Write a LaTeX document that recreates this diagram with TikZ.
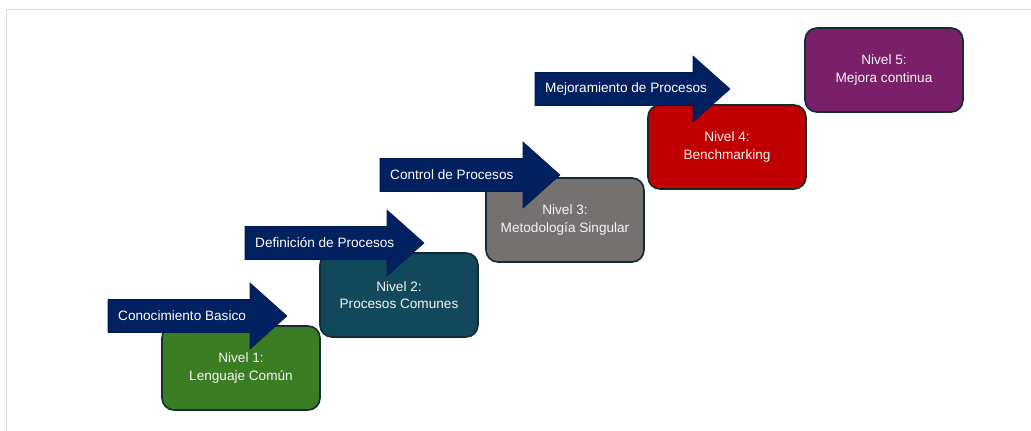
\documentclass[tikz,border=0pt]{standalone}
\usepackage{fontspec}
\setmainfont{Liberation Sans}
\usepackage{tikz}
\usetikzlibrary{positioning}
\definecolor{colorarrow}  {RGB}{0  ,32 ,96 }
\definecolor{colorline}   {RGB}{20 ,42 ,52 }
\definecolor{colorframe}  {RGB}{218,218,218}
\definecolor{colorlevone} {RGB}{59 ,125,35 }
\definecolor{colorlevtwo} {RGB}{18 ,72 ,92 }
\definecolor{colorlevthr} {RGB}{118,113,113}
\definecolor{colorlevfou} {RGB}{192,0  ,0  }
\definecolor{colorlevfiv} {RGB}{122,32 ,106}

% arrow with its label: name, x, y (centre of the start), shaft length, text
\newcommand{\levelarrow}[5]{%
    \fill[colorarrow,draw=colorarrow!80!black,line width=0.6pt]
        (#2,#3) ++(0,-16.5) -- ++(#4,0) -- ++(0,-16.5) -- ++(37,33)
        -- ++(-37,33) -- ++(0,-16.5) -- ++(-#4,0) -- cycle;
    \node[arrowtext] (#1) at (#2+10,#3) {#5};%
}

\begin{document}
\begin{tikzpicture}[
    x=1pt, y=-1pt,
    font={\fontsize{13.6}{17.5}\selectfont},
    arrowtext/.style={text=white,anchor=west,inner sep=0pt},
    levelbox/.style={draw=colorline,line width=1.6pt,rounded corners=12pt,
        minimum width=158pt,minimum height=84pt,align=center,
        text=white!92!gray},
]

    \useasboundingbox (0,0) rectangle (1031,431);
    \draw[colorframe,line width=1pt] (6,431) -- (6,9) -- (1031,9);

    % Levels
    \node[levelbox,fill=colorlevone] (nivone) at (241,368) {Nivel 1:\\Lenguaje Común};
    \node[levelbox,fill=colorlevtwo] (nivtwo) at (399,295) {Nivel 2:\\Procesos Comunes};
    \node[levelbox,fill=colorlevthr] (nivthr) at (565,220) {Nivel 3:\\Metodología Singular};
    \node[levelbox,fill=colorlevfou] (nivfou) at (727,147) {Nivel 4:\\Benchmarking};
    \node[levelbox,fill=colorlevfiv] (nivfiv) at (884,70)  {Nivel 5:\\Mejora continua};

    % Arrows
    \levelarrow{arrone}{108}{316}{142}{Conocimiento Basico}
    \levelarrow{arrtwo}{245}{243}{142}{Definición de Procesos}
    \levelarrow{arrthr}{380}{175}{143}{Control de Procesos}
    \levelarrow{arrfou}{535}{89}{158}{Mejoramiento de Procesos}

\end{tikzpicture}
\end{document}
